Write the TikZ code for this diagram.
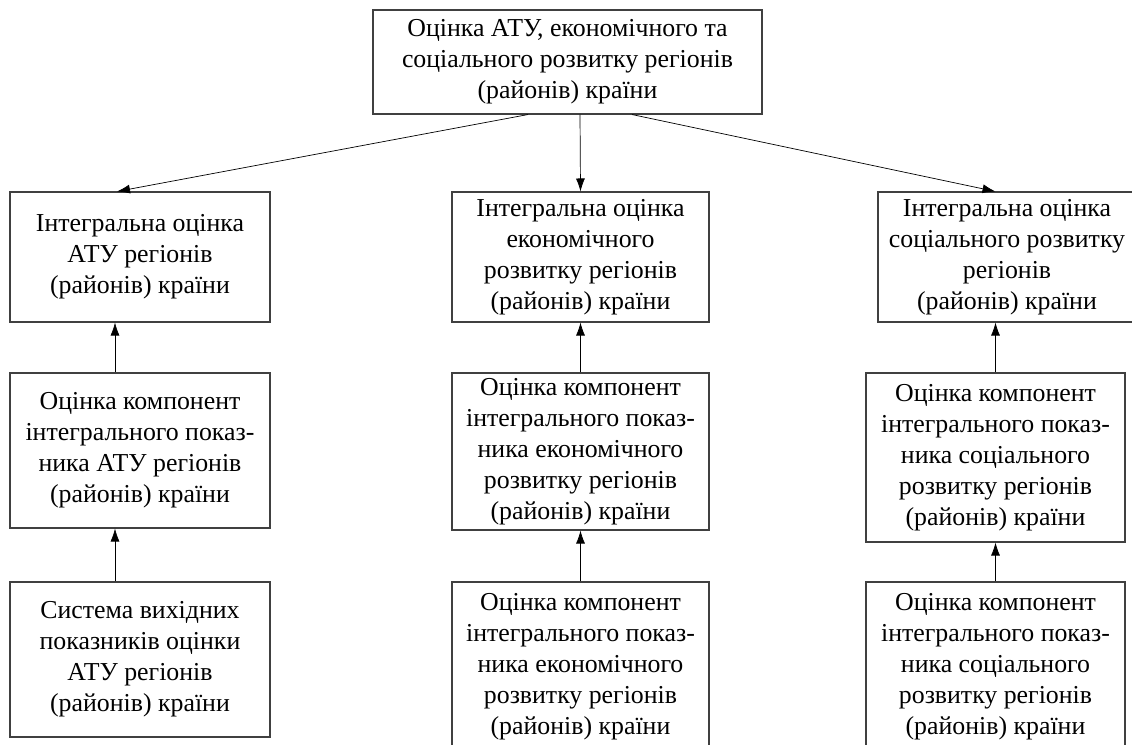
\documentclass[tikz,border=0pt]{standalone}
\usepackage{fontspec}
\setmainfont{Liberation Serif}
\usetikzlibrary{arrows.meta,calc}

\begin{document}
\begin{tikzpicture}[>={Latex[length=2.6mm,width=1.8mm]}]
% box shape and font
\tikzstyle{block}=[rectangle,draw=black!75,line width=0.6pt,align=center,inner sep=2pt,minimum width=5.14cm,font=\fontsize{14.7}{17.6}\selectfont]
\useasboundingbox (0,0) rectangle (22.64,-14.88);

% nodes
\node[block,minimum width=7.78cm,minimum height=2.08cm] (top) at (11.35,-1.24) {Оцінка АТУ, економічного та\\соціального розвитку регіонів\\(районів) країни};

\node[block,minimum width=5.2cm,minimum height=2.6cm] (L2) at (2.8,-5.14) {Інтегральна оцінка\\АТУ регіонів\\(районів) країни};
\node[block,minimum height=2.6cm] (M2) at (11.61,-5.14) {Інтегральна оцінка\\економічного\\розвитку регіонів\\(районів) країни};
\node[block,minimum width=5.16cm,minimum height=2.6cm] (R2) at (20.14,-5.14) {Інтегральна оцінка\\соціального розвитку\\регіонів\\(районів) країни};

\node[block,minimum width=5.2cm,minimum height=3.1cm] (L3) at (2.8,-9.01) {Оцінка компонент\\інтегрального показ-\\ника АТУ регіонів\\(районів) країни};
\node[block,minimum height=3.14cm] (M3) at (11.61,-9.03) {Оцінка компонент\\інтегрального показ-\\ника економічного\\розвитку регіонів\\(районів) країни};
\node[block,minimum width=5.18cm,minimum height=3.38cm] (R3) at (19.91,-9.15) {Оцінка компонент\\інтегрального показ-\\ника соціального\\розвитку регіонів\\(районів) країни};

\node[block,minimum width=5.2cm,minimum height=3.1cm] (L4) at (2.8,-13.19) {Система вихідних\\показників оцінки\\АТУ регіонів\\(районів) країни};
\node[block,minimum height=3.38cm] (M4) at (11.61,-13.33) {Оцінка компонент\\інтегрального показ-\\ника економічного\\розвитку регіонів\\(районів) країни};
\node[block,minimum width=5.18cm,minimum height=3.38cm] (R4) at (19.91,-13.33) {Оцінка компонент\\інтегрального показ-\\ника соціального\\розвитку регіонів\\(районів) країни};

% arrows from the top box
\draw[->] ([xshift=-0.79cm]top.south) -- ([xshift=-0.46cm]L2.north);
\draw[->] ([xshift=0.25cm]top.south) -- (M2.north);
\draw[->] ([xshift=1.29cm]top.south) -- (R3.north |- R2.north);

% arrows up the columns
\foreach \from/\to in {L3/L2,L4/L3}
\draw[->] ([xshift=-0.5cm]\from.north) -- ([xshift=-0.5cm]\to.south);
\foreach \from/\to in {M3/M2,M4/M3,R4/R3}
\draw[->] (\from) -- (\to);
\draw[->] (R3.north) -- (R3.north |- R2.south);
\end{tikzpicture}
\end{document}
